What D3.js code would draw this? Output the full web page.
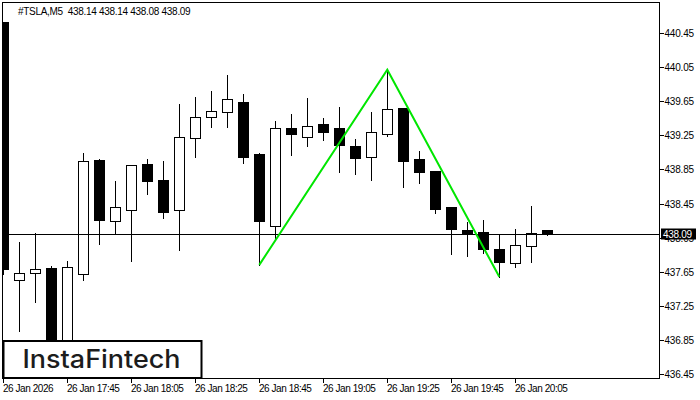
<!DOCTYPE html>
<html>
<head>
<meta charset="utf-8">
<script src="https://cdn.jsdelivr.net/npm/d3@7"></script>
<style>
  html, body { margin: 0; padding: 0; background: #fff; }
  svg { display: block; }
</style>
</head>
<body>
<svg id="chart" width="700" height="400"></svg>
<script>
// ---- data ----
const symbolTitle = "#TSLA,M5  438.14 438.14 438.08 438.09";
const opens  = [440.58,437.55,437.64,437.69,436.72,437.62,438.96,438.25,438.37,438.91,438.73,438.37,439.22,439.47,439.52,439.64,439.03,438.19,439.34,439.23,439.38,439.34,439.12,438.99,439.26,439.57,438.97,438.83,438.41,438.14,438.11,437.92,437.75,437.95,438.14];
const highs  = [440.58,438.01,438.12,437.73,437.79,439.05,438.98,438.73,438.90,438.98,438.96,439.63,439.71,439.78,439.97,439.75,439.05,439.43,439.51,439.70,439.47,439.59,439.22,439.54,440.02,439.57,439.08,438.83,438.41,438.25,438.27,438.09,438.16,438.43,438.14];
const lows   = [437.62,436.96,437.29,436.55,436.60,437.55,437.97,438.09,437.77,438.56,438.28,437.91,438.99,439.35,439.35,438.92,437.73,438.03,439.02,439.12,439.19,438.82,438.80,438.73,439.24,438.64,438.69,438.34,437.86,437.84,437.87,437.59,437.70,437.76,438.08];
const closes = [437.68,437.63,437.68,436.70,437.70,438.95,438.26,438.41,438.90,438.71,438.35,439.23,439.46,439.53,439.67,438.99,438.25,439.34,439.27,439.36,439.29,439.14,438.98,439.29,439.56,438.95,438.82,438.39,438.15,438.09,437.92,437.76,437.96,438.10,438.09];
const yTickValues = [440.45,440.05,439.65,439.25,438.85,438.45,438.05,437.65,437.25,436.85,436.45];
const xTickIndex  = [0,4,8,12,16,20,24,28,32];
const xTickLabels = ["26 Jan 2026","26 Jan 17:45","26 Jan 18:05","26 Jan 18:25","26 Jan 18:45","26 Jan 19:05","26 Jan 19:25","26 Jan 19:45","26 Jan 20:05"];
const patternIndex = [16,24,31];
const patternPrice = [437.73,440.02,437.59];
const lastPrice = 438.09;
const logoText = "InstaFintech";

const candles = opens.map((o,i)=>({i, o, h:highs[i], l:lows[i], c:closes[i]}));

// ---- layout ----
const svg = d3.select("#chart");
const plotL = 2.5, plotR = 659.5, plotT = 2.5, plotB = 378.5;
const x = d3.scaleLinear().domain([0, 34]).range([3.3, 547.3]);
const y = d3.scaleLinear().domain([436.45, 440.45]).range([374, 33]);
const px = i => Math.round(x(i)) + 0.5;
const py = v => Math.round(y(v)) + 0.5;
const font = "'Liberation Sans', Arial, sans-serif";

svg.append("defs").append("clipPath").attr("id","plotclip")
  .append("rect").attr("x",plotL+0.5).attr("y",plotT+0.5)
  .attr("width",plotR-plotL-1).attr("height",plotB-plotT-1);

const plot = svg.append("g").attr("clip-path","url(#plotclip)");

// candles
const cg = plot.append("g");
cg.selectAll("line.wick").data(candles).join("line")
  .attr("class","wick")
  .attr("x1", d=>px(d.i)).attr("x2", d=>px(d.i))
  .attr("y1", d=>py(d.h)).attr("y2", d=>py(d.l))
  .attr("stroke","#000").attr("stroke-width",1).attr("shape-rendering","crispEdges");
cg.selectAll("rect.body").data(candles).join("rect")
  .attr("class","body")
  .attr("x", d=>px(d.i)-5).attr("width",10)
  .attr("y", d=>py(Math.max(d.o,d.c)))
  .attr("height", d=>Math.max(1, py(Math.min(d.o,d.c)) - py(Math.max(d.o,d.c))))
  .attr("fill", d=> d.c >= d.o ? "#fff" : "#000")
  .attr("stroke","#000").attr("stroke-width",1).attr("shape-rendering","crispEdges");

// last price line
plot.append("line")
  .attr("x1",plotL).attr("x2",plotR)
  .attr("y1",py(lastPrice)).attr("y2",py(lastPrice))
  .attr("stroke","#000").attr("stroke-width",1).attr("shape-rendering","crispEdges");

// pattern line
const pattern = patternIndex.map((idx,k)=>({i:idx, p:patternPrice[k]}));
plot.append("path").datum(pattern)
  .attr("d", d3.line().x(d=>x(d.i)).y(d=>y(d.p)))
  .attr("fill","none").attr("stroke","#00e600").attr("stroke-width",2);

// frame
svg.append("rect").attr("x",plotL).attr("y",plotT)
  .attr("width",plotR-plotL).attr("height",plotB-plotT)
  .attr("fill","none").attr("stroke","#000").attr("stroke-width",1)
  .attr("shape-rendering","crispEdges");

// y axis
const yAxis = d3.axisRight(y).tickValues(yTickValues).tickSize(4).tickPadding(2)
  .tickFormat(d3.format(".2f"));
const ya = svg.append("g").attr("transform",`translate(${plotR},0)`).call(yAxis);
ya.select(".domain").remove();
ya.selectAll(".tick").attr("transform", d=>`translate(0,${py(d)})`);
ya.selectAll(".tick line").attr("stroke","#000").attr("shape-rendering","crispEdges");
ya.selectAll(".tick text").attr("font-family",font).attr("font-size",10)
  .attr("letter-spacing","-0.2px").attr("fill","#000").attr("x",5);

// price label
const pl = svg.append("g").attr("transform",`translate(661,${py(lastPrice)})`);
pl.append("rect").attr("x",0).attr("y",-6).attr("width",35).attr("height",11).attr("fill","#000");
pl.append("text").attr("x",2).attr("y",0).attr("dy","0.33em")
  .attr("font-family",font).attr("font-size",10).attr("letter-spacing","-0.3px")
  .attr("fill","#fff").text(d3.format(".2f")(lastPrice));

// x axis
const xAxis = d3.axisBottom(x).tickValues(xTickIndex).tickSize(4).tickPadding(3)
  .tickFormat((d,k)=>xTickLabels[k]);
const xa = svg.append("g").attr("transform",`translate(0,${plotB})`).call(xAxis);
xa.select(".domain").remove();
xa.selectAll(".tick").attr("transform", d=>`translate(${px(d)},0)`);
xa.selectAll(".tick line").attr("stroke","#000").attr("shape-rendering","crispEdges");
xa.selectAll(".tick text").attr("font-family",font).attr("font-size",10)
  .attr("letter-spacing","-0.45px").attr("fill","#000")
  .attr("text-anchor","start").attr("x",-0.5).attr("y",6);

// title
svg.append("text").attr("x",18).attr("y",14.5)
  .attr("font-family",font).attr("font-size",10).attr("letter-spacing","-0.3px")
  .attr("fill","#000").attr("xml:space","preserve").style("white-space","pre")
  .text(symbolTitle);

// logo
const lg = svg.append("g");
lg.append("rect").attr("x",3.5).attr("y",341).attr("width",198).attr("height",37)
  .attr("fill","#fff").attr("stroke","#000").attr("stroke-width",2);
lg.append("text").attr("x",22.5).attr("y",367.5)
  .attr("font-family","Inter, 'Open Sans', sans-serif").attr("font-weight",500)
  .attr("font-size",25).attr("fill","#1c1c1c")
  .attr("textLength",158).attr("lengthAdjust","spacingAndGlyphs")
  .text(logoText);
</script>
</body>
</html>
